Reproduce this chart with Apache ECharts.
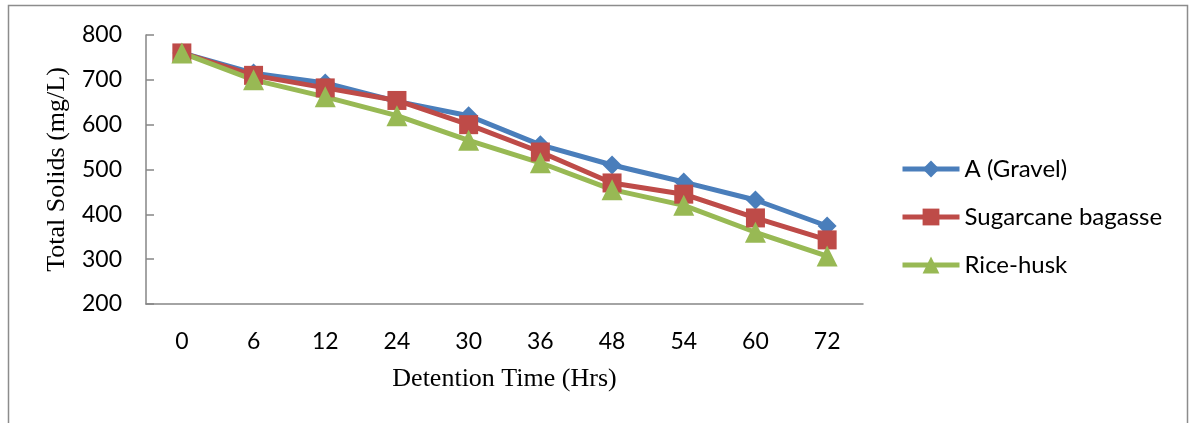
<!DOCTYPE html>
<html lang="en">
<head>
  <meta charset="UTF-8">
  <title>Total Solids vs Detention Time</title>
  <script src="https://cdn.jsdelivr.net/npm/echarts@6.0.0/dist/echarts.min.js"></script>
  <style>
    html, body { margin: 0; padding: 0; background: #fff; }
    #chart { width: 1192px; height: 423px; }
  </style>
</head>
<body>
  <div id="chart"></div>
  <script>
    // detention time (hrs) categories
    const hours = ['0', '6', '12', '24', '30', '36', '48', '54', '60', '72']
    const gravel = [760, 715, 693, 652, 620, 555, 510, 472, 432, 374]
    const bagasse = [760, 710, 682, 654, 600, 539, 470, 445, 392, 343]
    const riceHusk = [760, 700, 662, 620, 565, 515, 455, 420, 360, 307]
    const yTicks = { min: 200, max: 800, step: 100 }

    const axisColor = '#868686'
    const labelFont = 'Lato, "Open Sans", sans-serif'
    const titleFont = '"Liberation Serif", "DejaVu Serif", serif'

    function line(name, data, color, symbol, size) {
      return {
        name: name,
        type: 'line',
        data: data,
        symbol: symbol,
        symbolSize: size,
        lineStyle: { color: color, width: 5 },
        itemStyle: { color: color },
        emphasis: { disabled: true }
      }
    }

    const myChart = echarts.init(document.getElementById('chart'))
    const option = {
      animation: false,
      grid: { left: 146, right: 329, top: 35, bottom: 119 },
      graphic: [{
        type: 'rect',
        shape: { x: 8.5, y: 5.5, width: 1179, height: 430 },
        style: { fill: 'none', stroke: '#8c8c8c', lineWidth: 1.5 },
        silent: true
      }],
      legend: {
        orient: 'vertical',
        left: 900,
        top: 157,
        padding: 0,
        itemWidth: 57,
        itemHeight: 21,
        itemGap: 24,
        lineStyle: { width: 5 },
        textStyle: { fontFamily: labelFont, fontSize: 24, color: '#000' },
        data: ['A (Gravel)', 'Sugarcane bagasse', 'Rice-husk']
      },
      xAxis: {
        type: 'category',
        data: hours,
        boundaryGap: true,
        name: 'Detention Time (Hrs)',
        nameLocation: 'middle',
        nameGap: 62,
        nameTextStyle: { fontFamily: titleFont, fontSize: 26, color: '#000' },
        axisLine: { lineStyle: { color: axisColor, width: 1.5 } },
        axisTick: { inside: true, length: 8, alignWithLabel: false, lineStyle: { color: axisColor, width: 1.5 } },
        axisLabel: { margin: 26, fontFamily: labelFont, fontSize: 23, color: '#000' },
        splitLine: { show: false }
      },
      yAxis: {
        type: 'value',
        min: yTicks.min,
        max: yTicks.max,
        interval: yTicks.step,
        name: 'Total Solids (mg/L)',
        nameLocation: 'middle',
        nameGap: 76,
        nameTextStyle: { fontFamily: titleFont, fontSize: 26, color: '#000' },
        axisLine: { show: true, lineStyle: { color: axisColor, width: 1.5 } },
        axisTick: { show: true, inside: true, length: 8, lineStyle: { color: axisColor, width: 1.5 } },
        axisLabel: { margin: 24, fontFamily: labelFont, fontSize: 23, color: '#000' },
        splitLine: { show: false }
      },
      series: [
        line('A (Gravel)', gravel, '#4a7ebb', 'diamond', 19),
        line('Sugarcane bagasse', bagasse, '#be4b48', 'rect', 19),
        line('Rice-husk', riceHusk, '#98b954', 'triangle', 21)
      ]
    }
    myChart.setOption(option)
  </script>
</body>
</html>
